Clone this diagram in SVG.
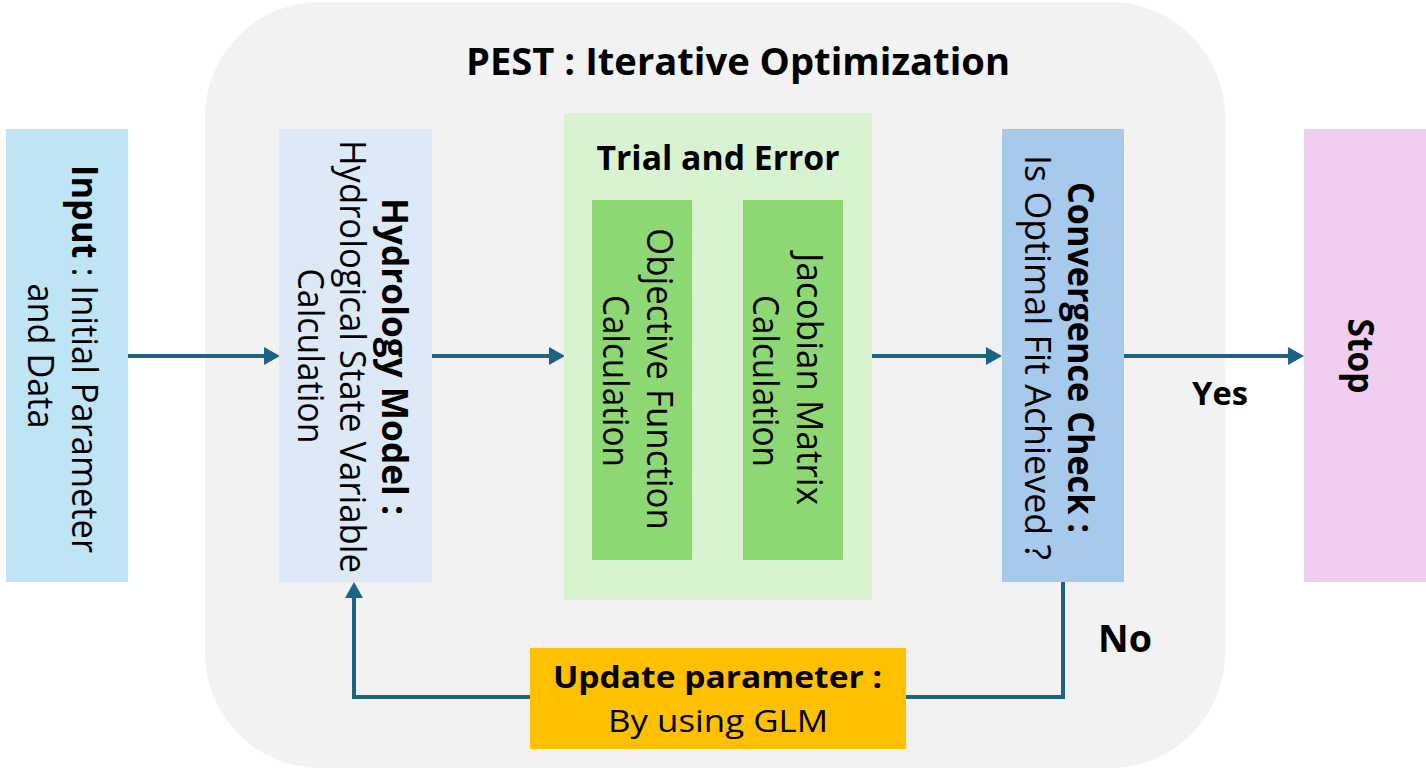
<svg xmlns="http://www.w3.org/2000/svg" width="1426" height="770" viewBox="0 0 1426 770">
<defs>
<marker id="ah" viewBox="0 0 16 18" refX="8" refY="9" markerWidth="16" markerHeight="18" markerUnits="userSpaceOnUse" orient="auto">
<path d="M0,0 L16,9 L0,18 z" fill="#1d6386"/>
</marker>
<style>
text{font-family:"Open Sans","Noto Sans","Liberation Sans",sans-serif;fill:#000;}
.v{font-size:36px;text-anchor:middle;}
.b{font-weight:bold;}
.c{fill:none;stroke:#1d6386;stroke-width:4;}
</style>
</defs>
<rect width="1426" height="770" fill="#ffffff"/>
<g id="pest">
<rect x="205" y="2" width="1020" height="766" rx="115" ry="115" fill="#f2f2f2"/>
<text x="738" y="75" font-size="38" class="b" text-anchor="middle" textLength="544" lengthAdjust="spacingAndGlyphs">PEST : Iterative Optimization</text>
</g>
<g id="connectors">
<path class="c" d="M128,356 H272" marker-end="url(#ah)"/>
<path class="c" d="M432,356 H557" marker-end="url(#ah)"/>
<path class="c" d="M872,356 H994" marker-end="url(#ah)"/>
<path class="c" d="M1124,356 H1296" marker-end="url(#ah)"/>
<path class="c" d="M1063,582 V697 H354 V590" marker-end="url(#ah)"/>
<polygon points="697,349 720,349 720,340 739,359 720,378 720,369 697,369" fill="#000"/>
</g>
<g id="input">
<rect x="6" y="129" width="122" height="453" fill="#bee4f6"/>
<text class="v" transform="translate(72,359) rotate(90)" textLength="388" lengthAdjust="spacingAndGlyphs"><tspan class="b">Input</tspan> : Initial Parameter</text>
<text class="v" transform="translate(28,356) rotate(90)" textLength="145" lengthAdjust="spacingAndGlyphs">and Data</text>
</g>
<g id="hydrology">
<rect x="279" y="129" width="153" height="453" fill="#dde9f7"/>
<text class="v b" transform="translate(382,356.5) rotate(90)" textLength="317" lengthAdjust="spacingAndGlyphs">Hydrology Model :</text>
<text class="v" transform="translate(340,356.5) rotate(90)" textLength="433" lengthAdjust="spacingAndGlyphs">Hydrological State Variable</text>
<text class="v" transform="translate(298,356) rotate(90)" textLength="175" lengthAdjust="spacingAndGlyphs">Calculation</text>
</g>
<g id="trial">
<rect x="564" y="113" width="308" height="487" fill="#d9f3d0"/>
<text x="718" y="170" font-size="34" class="b" text-anchor="middle" textLength="243" lengthAdjust="spacingAndGlyphs">Trial and Error</text>
</g>
<g id="objective">
<rect x="592" y="200" width="100" height="360" fill="#8ed873"/>
<text class="v" transform="translate(647,379) rotate(90)" textLength="302" lengthAdjust="spacingAndGlyphs">Objective Function</text>
<text class="v" transform="translate(603,381) rotate(90)" textLength="172" lengthAdjust="spacingAndGlyphs">Calculation</text>
</g>
<g id="jacobian">
<rect x="743" y="200" width="100" height="360" fill="#8ed873"/>
<text class="v" transform="translate(797,379) rotate(90)" textLength="252" lengthAdjust="spacingAndGlyphs">Jacobian Matrix</text>
<text class="v" transform="translate(753,381) rotate(90)" textLength="172" lengthAdjust="spacingAndGlyphs">Calculation</text>
</g>
<g id="convergence">
<rect x="1002" y="129" width="122" height="453" fill="#a6c9ec"/>
<text class="v b" transform="translate(1068,357.5) rotate(90)" textLength="351" lengthAdjust="spacingAndGlyphs">Convergence Check :</text>
<text class="v" transform="translate(1025,357.5) rotate(90)" textLength="405" lengthAdjust="spacingAndGlyphs">Is Optimal Fit Achieved ?</text>
</g>
<g id="stop">
<rect x="1304" y="129" width="122" height="453" fill="#f1cdef"/>
<text class="v b" transform="translate(1348,356) rotate(90)" textLength="75" lengthAdjust="spacingAndGlyphs">Stop</text>
</g>
<g id="update">
<rect x="530" y="648" width="376" height="101" fill="#ffc000"/>
<text x="717.5" y="688" font-size="31" class="b" text-anchor="middle" textLength="329" lengthAdjust="spacingAndGlyphs">Update parameter :</text>
<text x="718" y="732" font-size="31" text-anchor="middle" textLength="220" lengthAdjust="spacingAndGlyphs">By using GLM</text>
</g>
<g id="labels">
<text x="1220" y="405" font-size="33" class="b" text-anchor="middle" textLength="56" lengthAdjust="spacingAndGlyphs">Yes</text>
<text x="1125" y="652" font-size="38" class="b" text-anchor="middle" textLength="54" lengthAdjust="spacingAndGlyphs">No</text>
</g>
</svg>
